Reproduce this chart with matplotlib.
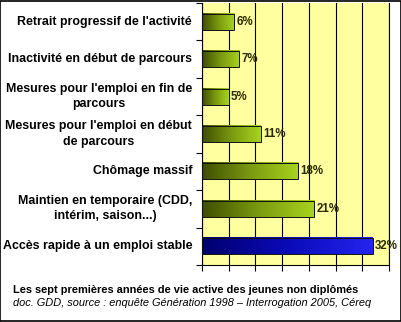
import numpy as np
import matplotlib
matplotlib.use("Agg")
import matplotlib.pyplot as plt
from matplotlib.colors import LinearSegmentedColormap
from matplotlib.patches import Rectangle

plt.rcParams['font.family'] = ['Liberation Sans', 'DejaVu Sans']

# parcours types, du haut vers le bas
categories = [
    "Retrait progressif de l'activité",
    "Inactivité en début de parcours",
    "Mesures pour l'emploi en fin de\nparcours",
    "Mesures pour l'emploi en début\nde parcours",
    "Chômage massif",
    "Maintien en temporaire (CDD,\nintérim, saison...)",
    "Accès rapide à un emploi stable",
]
values = [6, 7, 5, 11, 18, 21, 32]
value_labels = ["6%", "7%", "5%", "11%", "18%", "21%", "32%"]

green = LinearSegmentedColormap.from_list("vert", ["#3f4d00", "#7a9a10", "#a8d41e"])
blue = LinearSegmentedColormap.from_list("bleu", ["#00006e", "#0a0ab8", "#2424f0"])

fig = plt.figure(figsize=(4.02, 3.22), dpi=100)
fig.patch.set_facecolor("white")
ax = fig.add_axes([0.5025, 0.177, 0.4652, 0.8137])
ax.set_facecolor("#ffff9f")

h = 0.43
grad = np.linspace(0, 1, 256).reshape(1, -1)
for i, v in enumerate(values):
    cmap = blue if i == len(values) - 1 else green
    ax.imshow(grad, cmap=cmap, aspect="auto", zorder=2,
              extent=[0, v, i + h / 2, i - h / 2])
    ax.add_patch(Rectangle((0, i - h / 2), v, h, fill=False, edgecolor="#111111",
                           linewidth=0.7, zorder=3))
    ax.text(v + 0.4, i, value_labels[i], va="center", ha="left",
            fontsize=8.3, fontweight="bold", color="#2a2a00", zorder=4)
ax.set_xlim(0, 35)
ax.set_ylim(len(categories) - 0.5, -0.5)

ax.set_xticks(np.arange(0, 36, 5))
ax.set_xticklabels([])
ax.set_yticks(np.arange(-0.5, len(categories), 1))
ax.set_yticklabels([])
ax.tick_params(axis="both", direction="out", length=4, width=0.8, color="black")
ax.grid(axis="x", color="black", linewidth=0.8, zorder=1)
ax.set_axisbelow(True)
ax.spines["top"].set_visible(False)
for s in ["left", "bottom", "right"]:
    ax.spines[s].set_linewidth(0.8)

for i, lab in enumerate(categories):
    ax.text(-0.053, i, lab, transform=ax.get_yaxis_transform(), ha="right",
            va="center", multialignment="center", fontsize=8.9,
            fontweight="bold", color="black", linespacing=1.35)

fig.text(13 / 402, 1 - 290 / 322, "Les sept premières années de vie active des jeunes non diplômés",
         fontsize=7.9, fontweight="bold", va="center", ha="left")
fig.text(13 / 402, 1 - 303 / 322, "doc. GDD, source : enquête Génération 1998 – Interrogation 2005, Céreq",
         fontsize=7.9, style="italic", va="center", ha="left")

fig.add_artist(Rectangle((0.001, 0.002), 0.997, 0.995, transform=fig.transFigure,
                         fill=False, edgecolor="black", linewidth=1.2))

fig.savefig("out.png", dpi=100)
